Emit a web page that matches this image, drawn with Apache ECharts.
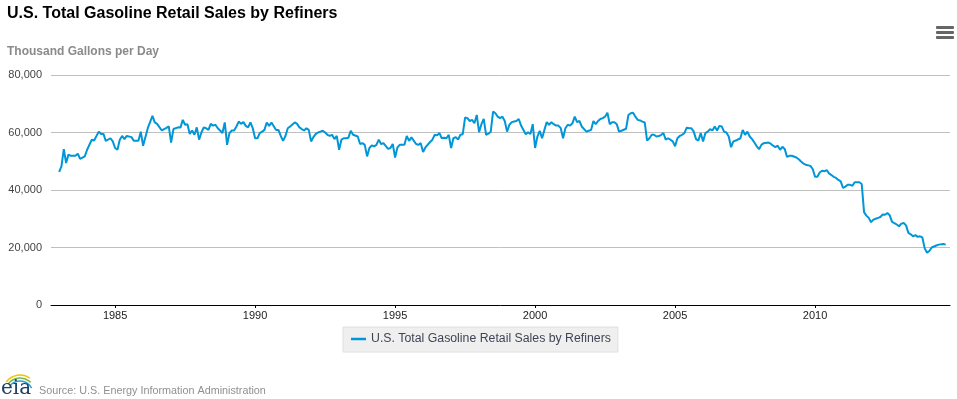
<!DOCTYPE html>
<html>
<head>
<meta charset="utf-8">
<title>U.S. Total Gasoline Retail Sales by Refiners</title>
<script src="https://cdn.jsdelivr.net/npm/echarts@6/dist/echarts.min.js"></script>
<style>
  html, body { margin: 0; padding: 0; background: #fff; }
  #chart { width: 957px; height: 399px; }
</style>
</head>
<body>
<div id="chart"></div>
<script>
// months counted from Jan 1983, monthly data
const startYear = 1983;
const monthOffsets = [
  0, 1, 2, 3, 4, 5, 7, 8, 9, 11, 12, 14, 15, 17, 18, 19, 20, 22, 23, 24,
  25, 26, 27, 28, 29, 31, 32, 34, 35, 36, 38, 40, 41, 42, 44, 46, 47, 48, 49, 51,
  52, 53, 54, 55, 56, 57, 58, 59, 60, 61, 62, 63, 64, 65, 66, 67, 68, 69, 70, 71,
  72, 73, 74, 75, 76, 77, 78, 79, 80, 81, 82, 83, 84, 85, 86, 87, 88, 89, 90, 91,
  93, 94, 95, 96, 97, 98, 99, 101, 102, 103, 104, 105, 106, 107, 108, 109, 110, 111, 112, 113,
  114, 115, 116, 117, 118, 119, 120, 121, 122, 123, 124, 125, 126, 128, 129, 130, 131, 132, 133, 134,
  135, 136, 137, 138, 139, 141, 142, 143, 144, 145, 146, 148, 149, 150, 151, 153, 154, 155, 156, 157,
  159, 160, 161, 162, 163, 164, 165, 166, 167, 168, 169, 170, 171, 172, 173, 174, 175, 176, 177, 178,
  179, 180, 181, 182, 183, 184, 185, 186, 187, 188, 189, 190, 191, 192, 193, 194, 195, 196, 197, 198,
  200, 201, 202, 203, 204, 205, 206, 207, 208, 209, 210, 211, 212, 213, 214, 215, 216, 217, 218, 219,
  220, 221, 222, 223, 224, 226, 227, 228, 229, 230, 231, 232, 233, 234, 235, 236, 237, 238, 239, 240,
  241, 243, 244, 245, 246, 247, 248, 249, 250, 251, 252, 253, 254, 255, 256, 257, 258, 259, 260, 261,
  262, 263, 264, 265, 266, 267, 268, 269, 270, 271, 272, 273, 274, 275, 276, 277, 278, 279, 280, 281,
  282, 283, 284, 285, 286, 287, 288, 289, 290, 292, 293, 294, 295, 296, 297, 298, 299, 300, 301, 302,
  304, 305, 306, 307, 308, 309, 310, 311, 312, 313, 314, 316, 317, 318, 319, 320, 322, 323, 324, 325,
  326, 327, 328, 329, 330, 332, 333, 334, 335, 336, 337, 338, 339, 340, 341, 343, 344, 345, 346, 347,
  348, 349, 350, 351, 352, 353, 354, 355, 356, 357, 358, 359, 360, 361, 362, 363, 364, 365, 366, 367,
  368, 369, 370, 371, 372, 373, 374, 376, 377, 379, 380
];
// thousand gallons per day
const salesValues = [
  46300, 48200, 54200, 49400, 52300, 51900, 51900, 52600, 50800, 51700, 54000, 57500, 57200, 60300, 59500, 59500, 57100, 58000, 56900, 54600,
  54000, 57500, 58800, 57700, 58800, 58400, 57100, 57100, 60300, 55400, 61500, 65800, 63500, 63000, 60700, 61600, 62100, 56500, 61200, 61800,
  61700, 64400, 62700, 62900, 59500, 60700, 59200, 61800, 57500, 60000, 61800, 61500, 60900, 63000, 62400, 62700, 61500, 60700, 59800, 63500,
  55700, 59800, 60700, 60700, 62100, 63800, 63000, 63600, 62300, 61800, 63500, 61500, 58000, 58000, 59800, 60300, 60900, 63500, 62300, 63500,
  60900, 60900, 58800, 57100, 58800, 61500, 62100, 63500, 63000, 61800, 61200, 60700, 61500, 60900, 56900, 58400, 59500, 60000, 60300, 60600,
  60000, 59200, 58800, 59200, 57700, 58800, 54000, 57500, 58000, 58000, 58200, 60600, 59200, 58600, 56000, 56300, 55700, 51700, 54600, 55500,
  55200, 55700, 57500, 56000, 56300, 54300, 54600, 56000, 51300, 54800, 55700, 55700, 58800, 57100, 58300, 56000, 55700, 56300, 53200, 54800,
  56700, 57500, 59200, 59000, 59800, 58000, 58200, 58000, 59200, 54600, 58000, 58400, 57500, 59200, 59400, 65200, 65000, 64000, 64400, 63200,
  66100, 60100, 62900, 64700, 59200, 59600, 60300, 67300, 66700, 65500, 65000, 65500, 64000, 60300, 62700, 63600, 63800, 64000, 64700, 62400,
  59400, 60100, 59500, 62900, 54600, 58600, 60600, 58000, 60900, 63600, 62700, 63600, 62900, 62400, 62400, 61500, 58000, 61500, 62700, 62400,
  63200, 65500, 63600, 64000, 62100, 60300, 60600, 60900, 64000, 62900, 64000, 64700, 65000, 65500, 66900, 62900, 63600, 63600, 62900, 60300,
  60600, 61300, 66100, 66700, 66900, 65500, 64400, 64200, 63800, 63500, 57200, 58000, 59200, 59200, 58600, 58800, 59100, 59800, 57500, 58000,
  57500, 56900, 55200, 58000, 58800, 59200, 59800, 61700, 61500, 61500, 60300, 57700, 57200, 59800, 56900, 59800, 60300, 61200, 60700, 62100,
  60700, 62300, 62100, 60300, 60000, 58600, 54900, 56900, 57200, 58000, 60900, 59200, 60300, 58600, 57700, 56500, 55200, 54200, 55700, 56300,
  56500, 56100, 55400, 54900, 55400, 54000, 55000, 54300, 51500, 51900, 51900, 51300, 50700, 49900, 49200, 48800, 48400, 47300, 44600, 44600,
  46100, 46700, 46500, 46900, 45800, 44600, 44200, 43500, 43000, 40700, 41200, 41800, 41800, 41500, 42700, 42700, 42100, 32300, 31100, 30300,
  28800, 29700, 30000, 30300, 30600, 31500, 31400, 32000, 31200, 28900, 28500, 28000, 27400, 28300, 28500, 27700, 25100, 24600, 23900, 24300,
  23700, 23900, 23500, 19700, 18200, 18800, 20000, 20700, 21000, 21200, 21000
];
const yearTicks = [1985, 1990, 1995, 2000, 2005, 2010];
const seriesName = 'U.S. Total Gasoline Retail Sales by Refiners';

const FONT = '"Liberation Sans", Arial, sans-serif';
const chart = echarts.init(document.getElementById('chart'), null, { renderer: 'canvas' });

const points = monthOffsets.map((m, i) => [startYear + m / 12, salesValues[i]]);

chart.setOption({
  animation: false,
  backgroundColor: '#fff',
  textStyle: { fontFamily: FONT },
  grid: {
    left: 51,
    right: 7,
    top: 75,
    bottom: 94
  },
  legend: {
    left: 343,
    top: 327,
    padding: [6, 7, 7, 8],
    backgroundColor: '#efefef',
    borderColor: '#e0e0e0',
    borderWidth: 1,
    icon: 'rect',
    itemWidth: 15,
    itemHeight: 2.5,
    itemGap: 6,
    textStyle: { color: '#3e4654', fontSize: 12.3, fontFamily: FONT },
    data: [seriesName]
  },
  xAxis: {
    type: 'value',
    min: 1982.71,
    max: 2014.82,
    axisLine: { show: true, lineStyle: { color: '#000', width: 1 } },
    axisTick: {
      show: true,
      customValues: yearTicks,
      length: 3,
      lineStyle: { color: '#000' }
    },
    splitLine: { show: false },
    axisLabel: {
      customValues: yearTicks,
      color: '#222',
      fontSize: 11,
      margin: 5,
      formatter: v => String(v)
    }
  },
  yAxis: {
    type: 'value',
    min: 0,
    max: 80000,
    interval: 20000,
    axisLine: { show: false },
    axisTick: { show: false },
    splitLine: { lineStyle: { color: '#c0c0c0', width: 1 } },
    axisLabel: {
      color: '#444',
      fontSize: 11,
      margin: 9,
      formatter: v => v.toLocaleString('en-US')
    }
  },
  series: [
    {
      name: seriesName,
      type: 'line',
      data: points,
      showSymbol: false,
      symbol: 'none',
      color: '#0096d7',
      lineStyle: { color: '#0096d7', width: 2 }
    }
  ],
  graphic: [
    {
      type: 'text', left: 7, top: 6,
      style: { text: 'U.S. Total Gasoline Retail Sales by Refiners', fill: '#000', font: 'bold 16px ' + FONT }
    },
    {
      type: 'text', left: 7, top: 46,
      style: { text: 'Thousand Gallons per Day', fill: '#8a8a8a', font: 'bold 12px ' + FONT }
    },
    // menu button
    { type: 'rect', shape: { x: 936, y: 26, width: 18, height: 3, r: 1 }, style: { fill: '#666' } },
    { type: 'rect', shape: { x: 936, y: 31, width: 18, height: 3, r: 1 }, style: { fill: '#666' } },
    { type: 'rect', shape: { x: 936, y: 36, width: 18, height: 3, r: 1 }, style: { fill: '#666' } },
    // eia logo
    { type: 'arc', shape: { cx: 20, cy: 392, r: 17, startAngle: Math.PI * 1.2, endAngle: Math.PI * 1.7 }, style: { stroke: '#f2c500', lineWidth: 1.5, fill: null } },
    { type: 'arc', shape: { cx: 20, cy: 393, r: 15, startAngle: Math.PI * 1.2, endAngle: Math.PI * 1.75 }, style: { stroke: '#7ab648', lineWidth: 1.5, fill: null } },
    { type: 'arc', shape: { cx: 20, cy: 394, r: 13, startAngle: Math.PI * 1.25, endAngle: Math.PI * 1.85 }, style: { stroke: '#2a9fd6', lineWidth: 1.5, fill: null } },
    {
      type: 'text', left: 1, top: 379,
      style: { text: 'eia', fill: '#1f3f66', font: '20px "DejaVu Serif", serif' }
    },
    {
      type: 'text', left: 39, top: 386,
      style: { text: 'Source: U.S. Energy Information Administration', fill: '#909090', font: '10.8px ' + FONT }
    }
  ]
});
</script>
</body>
</html>
